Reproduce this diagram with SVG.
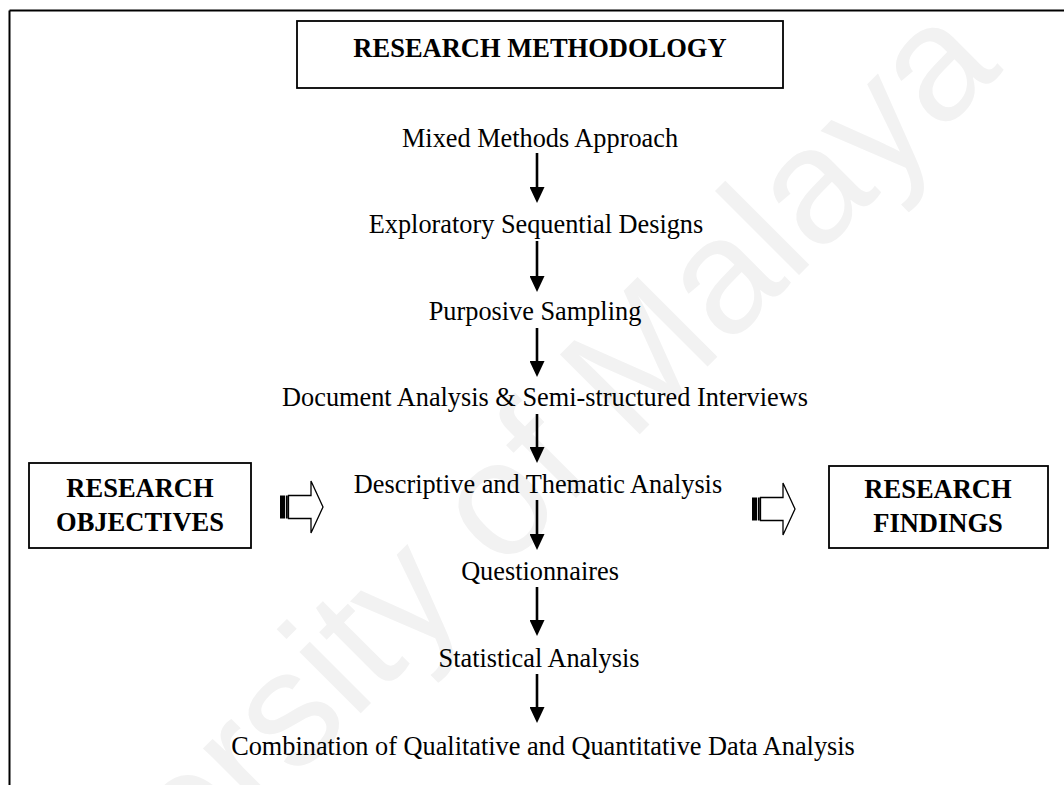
<svg xmlns="http://www.w3.org/2000/svg" width="1064" height="785" viewBox="0 0 1064 785">
  <style>
    .step { font-family: "Liberation Serif", "Times New Roman", serif; font-size: 26.3px; fill: #000; text-anchor: middle; }
    .bold { font-family: "Liberation Serif", "Times New Roman", serif; font-size: 26.5px; font-weight: bold; fill: #000; text-anchor: middle; }
    .box { fill: #fff; stroke: #000; stroke-width: 1.8; }
    .conn { stroke: #000; stroke-width: 2.6; fill: none; marker-end: url(#head); }
    .wm { font-family: "Liberation Sans", Arial, sans-serif; font-size: 164px; fill: #f2f2f2; text-anchor: middle; }
  </style>
  <defs>
    <marker id="head" viewBox="0 0 16 15" refX="12" refY="7.5" markerWidth="16" markerHeight="15" markerUnits="userSpaceOnUse" orient="auto">
      <path d="M0,0 L16,7.5 L0,15 z" fill="#000"/>
    </marker>
    <g id="blockArrow">
      <rect x="0" y="-11.5" width="5" height="23" fill="#000"/>
      <rect x="5.8" y="-11.5" width="2" height="23" fill="#000"/>
      <polygon points="8.5,-11.5 31,-11.5 31,-26 43,0 31,26 31,11.5 8.5,11.5" fill="#fff" stroke="#000" stroke-width="1.3" stroke-linejoin="miter"/>
    </g>
  </defs>

  <rect width="1064" height="785" fill="#fff"/>

  <!-- faint watermark -->
  <text class="wm" x="482" y="592" transform="rotate(-45 482 592)">University of Malaya</text>

  <!-- outer frame -->
  <g id="frame" stroke="#000" stroke-width="2" fill="none">
    <line x1="9.5" y1="10.5" x2="1064" y2="10.5"/>
    <line x1="9.5" y1="10.5" x2="9.5" y2="785"/>
  </g>

  <g id="title">
    <rect class="box" x="297" y="21" width="486" height="67" stroke-width="2"/>
    <text class="bold" x="540" y="57">RESEARCH METHODOLOGY</text>
  </g>

  <g id="objectives">
    <rect class="box" x="29" y="463" width="222" height="85"/>
    <text class="bold" x="140" y="497">RESEARCH</text>
    <text class="bold" x="140" y="531">OBJECTIVES</text>
  </g>

  <g id="findings">
    <rect class="box" x="829" y="466" width="219" height="82"/>
    <text class="bold" x="938" y="498">RESEARCH</text>
    <text class="bold" x="938" y="532">FINDINGS</text>
  </g>

  <g id="step1"><text class="step" x="540" y="147">Mixed Methods Approach</text></g>
  <g id="step2"><text class="step" x="536" y="233">Exploratory Sequential Designs</text></g>
  <g id="step3"><text class="step" x="535" y="320">Purposive Sampling</text></g>
  <g id="step4"><text class="step" x="545" y="406">Document Analysis &amp; Semi-structured Interviews</text></g>
  <g id="step5"><text class="step" x="538" y="493">Descriptive and Thematic Analysis</text></g>
  <g id="step6"><text class="step" x="540" y="580">Questionnaires</text></g>
  <g id="step7"><text class="step" x="539" y="667">Statistical Analysis</text></g>
  <g id="step8"><text class="step" x="543" y="755">Combination of Qualitative and Quantitative Data Analysis</text></g>

  <g id="connectors">
    <line class="conn" x1="537" y1="153" x2="537" y2="199"/>
    <line class="conn" x1="537" y1="241" x2="537" y2="288"/>
    <line class="conn" x1="537" y1="328" x2="537" y2="373"/>
    <line class="conn" x1="537" y1="414" x2="537" y2="459"/>
    <line class="conn" x1="537" y1="500" x2="537" y2="546"/>
    <line class="conn" x1="537" y1="587" x2="537" y2="632"/>
    <line class="conn" x1="537" y1="674" x2="537" y2="719"/>
    <use href="#blockArrow" transform="translate(280 507)"/>
    <use href="#blockArrow" transform="translate(752 509)"/>
  </g>
</svg>
